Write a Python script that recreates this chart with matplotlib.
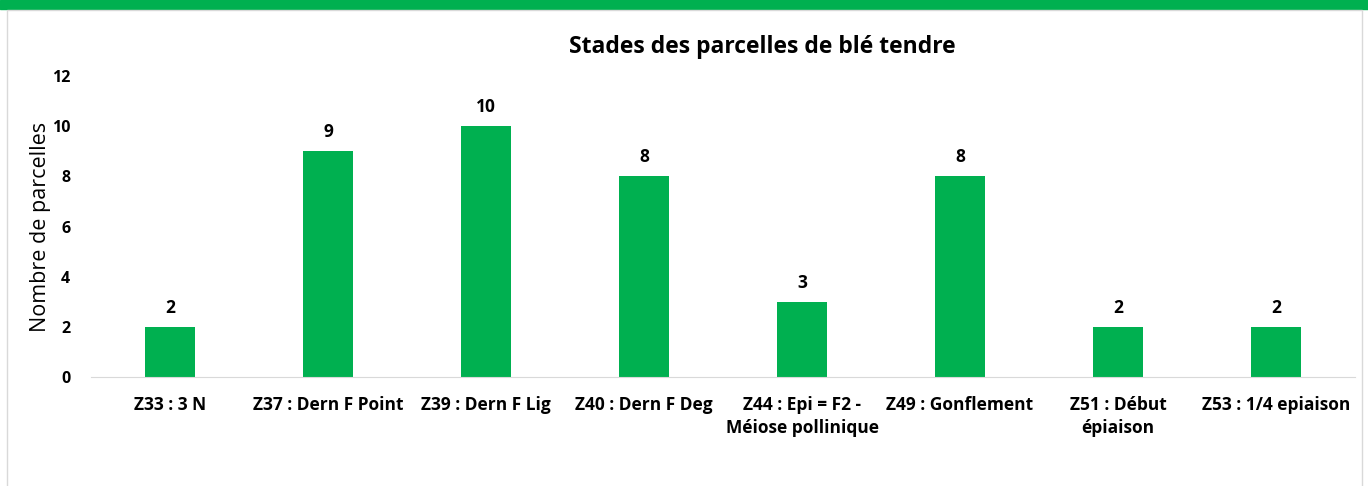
import matplotlib.pyplot as plt
from matplotlib.patches import Rectangle

plt.rcParams['font.family'] = ['Open Sans', 'DejaVu Sans']

# stades et nombre de parcelles
stades = ["Z33 : 3 N", "Z37 : Dern F Point", "Z39 : Dern F Lig", "Z40 : Dern F Deg",
          "Z44 : Epi = F2 -\nMéiose pollinique", "Z49 : Gonflement",
          "Z51 : Début\népiaison", "Z53 : 1/4 epiaison"]
nb_parcelles = [2, 9, 10, 8, 3, 8, 2, 2]
yticks = [0, 2, 4, 6, 8, 10, 12]

vert = '#00B050'

fig = plt.figure(figsize=(13.68, 4.86), dpi=100)

# bandeau vert en haut + cadre gris du graphique
fig.patches.append(Rectangle((0, 1 - 9 / 486), 1, 9 / 486, transform=fig.transFigure,
                             color=vert, zorder=0))
fig.patches.append(Rectangle((7 / 1368, -0.01), 1355 / 1368, 1 - 10 / 486 + 0.01,
                             transform=fig.transFigure, fill=False,
                             edgecolor='#d9d9d9', linewidth=1, zorder=0))

ax = fig.add_axes([91 / 1368, 1 - 377 / 486, 1264 / 1368, 301 / 486])
x = range(len(stades))
bars = ax.bar(x, nb_parcelles, width=0.32, color=vert, zorder=2)

ax.set_xlim(-0.5, len(stades) - 0.5)
ax.set_ylim(0, 12)
ax.set_yticks(yticks)
ax.set_yticklabels([str(v) for v in yticks], fontweight='bold', fontsize=11.5)
ax.set_xticks(list(x))
ax.set_xticklabels(stades, fontweight='bold', fontsize=12.5, linespacing=1.3)
ax.tick_params(axis='both', length=0)
ax.tick_params(axis='x', pad=14)
ax.tick_params(axis='y', pad=15)

for s in ['top', 'right', 'left']:
    ax.spines[s].set_visible(False)
ax.spines['bottom'].set_color('#d9d9d9')

ax.set_ylabel('Nombre de parcelles', fontsize=15.5, labelpad=0)
ax.yaxis.set_label_coords(-0.032, 0.5)

for bar in bars:
    h = bar.get_height()
    ax.text(bar.get_x() + bar.get_width() / 2, h + 0.4, f'{int(h)}',
            ha='center', va='bottom', fontsize=12.5, fontweight='bold')

fig.text(762 / 1368, 1 - 47 / 486, 'Stades des parcelles de blé tendre',
         ha='center', va='center', fontsize=16.5, fontweight='bold')

fig.savefig('out.png', dpi=100)
